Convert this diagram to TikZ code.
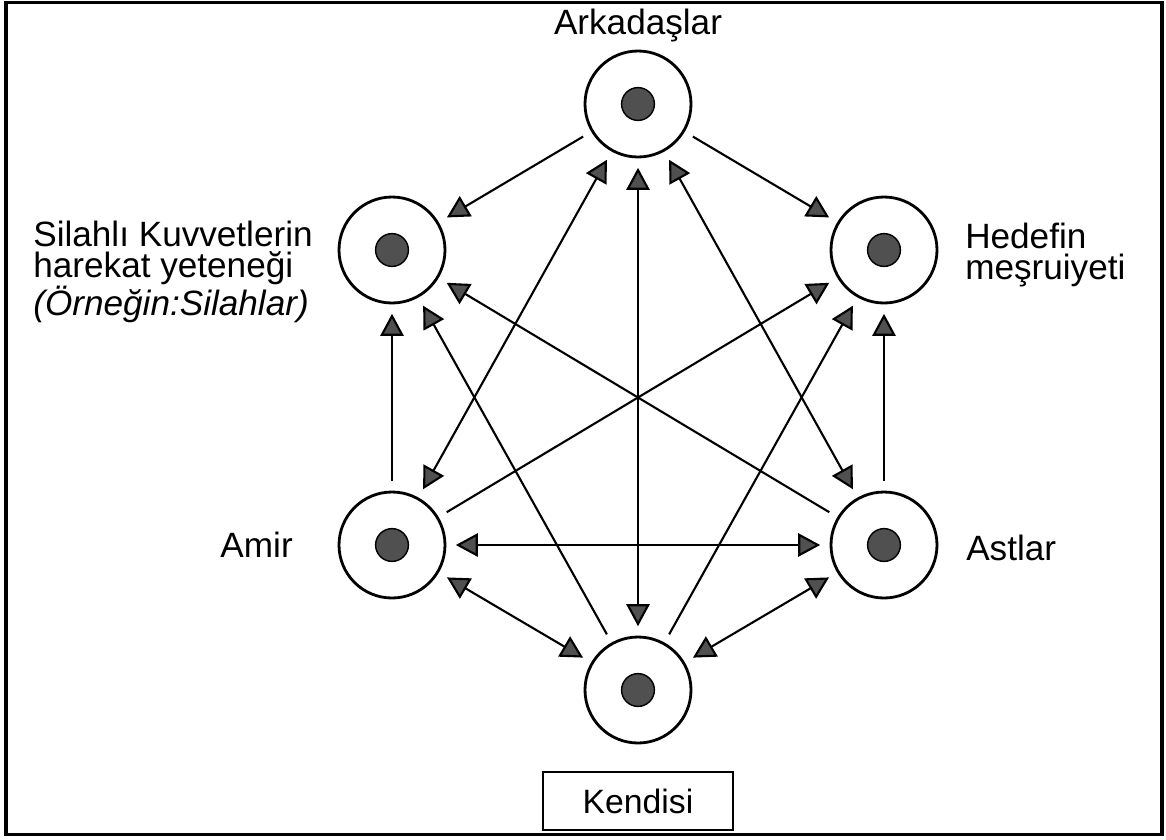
\documentclass[tikz,border=0pt]{standalone}
\usepackage{fontspec}
\setmainfont{Liberation Sans}
\usetikzlibrary{positioning, arrows.meta}
\definecolor{dotgray}{HTML}{505050}

\begin{document}
\begin{tikzpicture}[on grid, >={Triangle[length=0.55cm,width=0.58cm,fill=dotgray]},
  main node/.style={circle,draw,line width=2pt,minimum size=2.65cm,inner sep=0pt,outer sep=0.27cm,
    path picture={\filldraw[fill=dotgray,line width=1pt] (path picture bounding box.center) circle (0.41cm);}},
  text node/.style={inner sep=0pt,align=left,font=\fontsize{25}{21.5}\selectfont},
  box node/.style={rectangle,draw,line width=1.5pt,minimum width=4.75cm,minimum height=1.45cm,
    font=\fontsize{24}{20}\selectfont}]

\useasboundingbox (0,0) rectangle (29.15,-20.975);
\draw[line width=2.4pt] (0.15,-0.06) rectangle (29.05,-20.86);

\node[main node] (K) at (15.95,-17.25) {};
\node[main node] (M) [above left=3.625cm and 6.15cm of K] {};
\node[main node] (T) [above right=3.625cm and 6.15cm of K] {};
\node[main node] (S) [above=7.375cm of M] {};
\node[main node] (H) [above=7.375cm of T] {};
\node[main node] (A) [above right=3.65cm and 6.15cm of S] {};

% labels
\node[text node] (lA) [above=1.96cm of A] {Arkadaşlar};
\node[text node] (lS) [below left=0.55cm and 1.975cm of S, anchor=east]
  {Silahlı Kuvvetlerin\\harekat yeteneği\\\textit{(Örneğin:Silahlar)}};
\node[text node] (lH) [below right=0.125cm and 2.025cm of H, anchor=west] {Hedefin\\meşruiyeti};
\node[text node] (lM) [left=2.475cm of M, anchor=east] {Amir};
\node[text node] (lT) [below right=0.075cm and 2.05cm of T, anchor=west] {Astlar};
\node[box node] (lK) [below=2.775cm of K] {Kendisi};

\path[line width=1.5pt]
(A) edge[->] (S)
(A) edge[->] (H)
(A) edge[<->] (K)
(M) edge[<->] (A)
(T) edge[<->] (A)
(T) edge[->] (S)
(M) edge[->] (H)
(K) edge[->] (S)
(K) edge[->] (H)
(M) edge[->] (S)
(T) edge[->] (H)
(M) edge[<->] (T)
(M) edge[<->] (K)
(T) edge[<->] (K)
;

\end{tikzpicture}
\end{document}
